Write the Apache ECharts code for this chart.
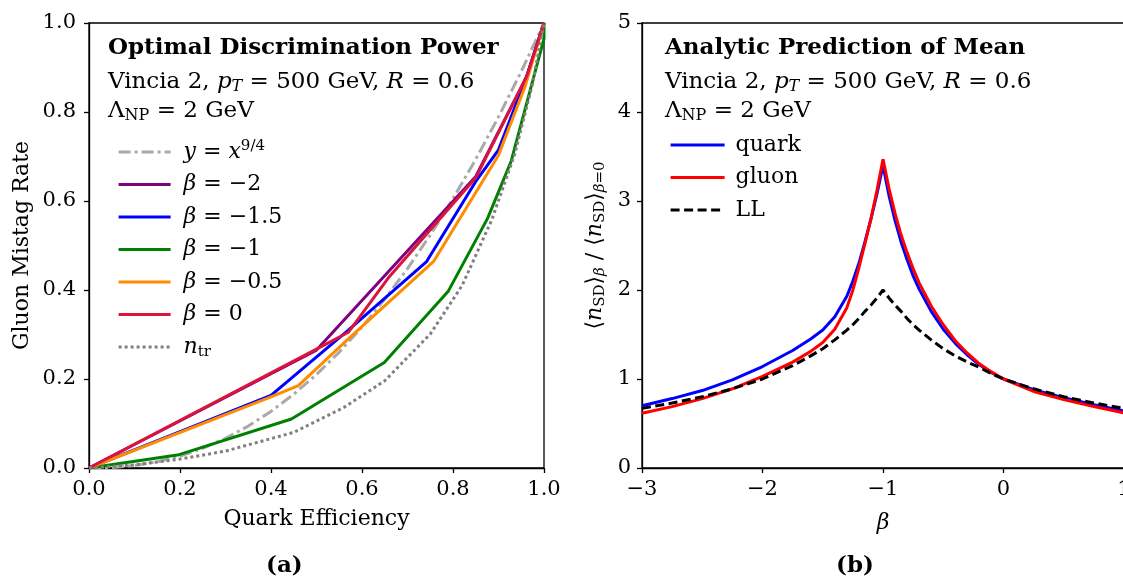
<!DOCTYPE html>
<html><head><meta charset="utf-8">
<script src="https://cdn.jsdelivr.net/npm/echarts@6/dist/echarts.min.js"></script>
<style>html,body{margin:0;padding:0;background:#fff}#c{width:1123px;height:578px}</style>
</head><body><div id="c"></div>
<script>
// ---------- Panel (a) data: [quark efficiency, gluon mistag rate] ----------
const powerLaw = [[0,0],[0.05,0.0012],[0.1,0.0056],[0.15,0.014],[0.2,0.0268],[0.25,0.0442],[0.3,0.0666],[0.35,0.0942],[0.4,0.1272],[0.45,0.1658],[0.5,0.2102],[0.55,0.2605],[0.6,0.3169],[0.65,0.3794],[0.7,0.4482],[0.75,0.5235],[0.8,0.6053],[0.85,0.6937],[0.9,0.7889],[0.95,0.891],[1,1]];
const betaM2  = [[0,0],[0.5,0.265],[0.85,0.655],[0.962,0.88],[1,1]];
const betaM15 = [[0,0],[0.4,0.163],[0.57,0.31],[0.742,0.464],[0.852,0.647],[0.9,0.715],[0.962,0.88],[1,1]];
const betaM1  = [[0,0],[0.198,0.03],[0.445,0.11],[0.649,0.237],[0.79,0.398],[0.876,0.561],[0.928,0.69],[1,0.965],[1,1]];
const betaM05 = [[0,0],[0.4,0.16],[0.46,0.185],[0.57,0.29],[0.758,0.465],[0.9,0.703],[0.958,0.856],[1,1]];
const beta0   = [[0,0],[0.5,0.267],[0.57,0.305],[0.66,0.43],[0.85,0.652],[0.962,0.88],[1,1]];
const nTrack  = [[0,0],[0.1,0.007],[0.2,0.02],[0.3,0.038],[0.45,0.08],[0.56,0.136],[0.65,0.196],[0.75,0.301],[0.82,0.41],[0.885,0.557],[0.936,0.706],[0.975,0.864],[1,1]];

// ---------- Panel (b) data ----------
const betaGrid  = [-3,-2.75,-2.5,-2.25,-2,-1.75,-1.6,-1.5,-1.4,-1.3,-1.25,-1.2,-1.15,-1.1,-1.05,-1,-0.95,-0.9,-0.85,-0.8,-0.75,-0.7,-0.6,-0.5,-0.4,-0.3,-0.2,-0.1,0,0.25,0.5,0.75,1];
const quarkMean = [0.70,0.78,0.87,0.99,1.14,1.32,1.45,1.55,1.70,1.93,2.10,2.30,2.54,2.80,3.08,3.40,3.06,2.78,2.54,2.34,2.16,2.01,1.76,1.56,1.40,1.27,1.16,1.07,1.0,0.88,0.79,0.71,0.64];
const gluonMean = [0.615,0.69,0.78,0.89,1.03,1.19,1.31,1.41,1.56,1.80,2.00,2.25,2.52,2.80,3.12,3.47,3.14,2.86,2.62,2.42,2.24,2.08,1.82,1.61,1.43,1.29,1.17,1.08,1.0,0.86,0.77,0.69,0.62];
const llMean    = [0.67,0.73,0.80,0.89,1.0,1.15,1.26,1.34,1.44,1.55,1.61,1.68,1.76,1.83,1.91,2.0,1.91,1.83,1.76,1.68,1.61,1.55,1.44,1.34,1.26,1.19,1.13,1.06,1.0,0.89,0.80,0.73,0.67];

const FONT = 'DejaVu Serif';
const FS = 22;
function makeRich(fs, sfs){
  return {
    i:   {fontFamily: FONT, fontStyle: 'italic', fontSize: fs, lineHeight: 26, color:'#000'},
    b:   {fontFamily: FONT, fontWeight: 'bold', fontSize: fs, lineHeight: 26, color:'#000'},
    n:   {fontFamily: FONT, fontSize: fs, lineHeight: 26, color:'#000'},
    sub: {fontFamily: FONT, fontSize: sfs, lineHeight: sfs, verticalAlign: 'bottom', color:'#000'},
    subi:{fontFamily: FONT, fontSize: sfs, fontStyle: 'italic', lineHeight: sfs, verticalAlign: 'bottom', color:'#000'},
    sup: {fontFamily: FONT, fontSize: sfs, lineHeight: sfs, verticalAlign: 'top', color:'#000'}
  };
}
const rich = makeRich(FS, 15);
const richBig = makeRich(23, 16);
function pairBeta(vals){ return betaGrid.map((b,i)=>[b, vals[i]]); }
const minus = v => (v < 0 ? '\u2212' + Math.abs(v) : String(v));

const leftSeries = [
  {name:'powerlaw', data: powerLaw, color:'#a9a9a9', type:[12,4,3,4]},
  {name:'bm2', data: betaM2, color:'#800080', type:'solid'},
  {name:'bm15', data: betaM15, color:'#0000ff', type:'solid'},
  {name:'bm1', data: betaM1, color:'#008000', type:'solid'},
  {name:'bm05', data: betaM05, color:'#ff8c00', type:'solid'},
  {name:'b0', data: beta0, color:'#dc143c', type:'solid'},
  {name:'ntr', data: nTrack, color:'#808080', type:[3,3]}
];
const leftLabels = {
  powerlaw: '{i|y} = {i|x}{sup|9/4}',
  bm2: '{i|β} = \u22122',
  bm15: '{i|β} = \u22121.5',
  bm1: '{i|β} = \u22121',
  bm05: '{i|β} = \u22120.5',
  b0: '{i|β} = 0',
  ntr: '{i|n}{sub|tr}'
};
const rightSeries = [
  {name:'quark', data: pairBeta(quarkMean), color:'#0000ff', type:'solid'},
  {name:'gluon', data: pairBeta(gluonMean), color:'#ff0000', type:'solid'},
  {name:'LL', data: pairBeta(llMean), color:'#000000', type:[9,4.5]}
];

function axisCommon(margin){
  return {
    axisLine: {show: true, onZero: false, lineStyle: {color:'#000', width: 1.3}},
    axisTick: {show: true, inside: false, length: 5, lineStyle: {color:'#000', width: 1.3}},
    splitLine: {show: false},
    axisLabel: {fontFamily: FONT, fontSize: 21, color: '#000', margin: margin}
  };
}

const series = [];
leftSeries.forEach(s => series.push({
  name: s.name, type: 'line', xAxisIndex: 0, yAxisIndex: 0, data: s.data,
  symbol: 'none', showSymbol: false, animation: false, color: s.color,
  lineStyle: {color: s.color, width: 3, type: s.type, cap: 'butt'}
}));
rightSeries.forEach(s => series.push({
  name: s.name, type: 'line', xAxisIndex: 1, yAxisIndex: 1, data: s.data,
  symbol: 'none', showSymbol: false, animation: false, color: s.color,
  lineStyle: {color: s.color, width: 3, type: s.type, cap: 'butt'}
}));

function txt(x, y, text){
  return {type:'text', left: x, top: y, silent: true,
    style: {text: text, rich: richBig, fontFamily: FONT, fontSize: 23, fill: '#000', lineHeight: 26}};
}

const option = {
  animation: false,
  backgroundColor: '#fff',
  grid: [
    {left: 89, right: 579, top: 23, bottom: 110, show: true, borderColor: '#000', borderWidth: 1.3, backgroundColor: 'transparent', outerBoundsMode: 'none', containLabel: false},
    {left: 642, right: -1, top: 23, bottom: 110, show: true, borderColor: '#000', borderWidth: 1.3, backgroundColor: 'transparent', outerBoundsMode: 'none', containLabel: false}
  ],
  xAxis: [
    Object.assign(axisCommon(11), {gridIndex: 0, type:'value', min: 0, max: 1, interval: 0.2,
      axisLabel: Object.assign(axisCommon(11).axisLabel, {formatter: v => v.toFixed(1)}),
      name: 'Quark Efficiency', nameLocation: 'middle', nameGap: 40,
      nameTextStyle: {fontFamily: FONT, fontSize: FS, color: '#000'}}),
    Object.assign(axisCommon(11), {gridIndex: 1, type:'value', min: -3, max: 1, interval: 1,
      axisLabel: Object.assign(axisCommon(11).axisLabel, {formatter: minus}),
      name: '{i|β}', nameLocation: 'middle', nameGap: 42,
      nameTextStyle: {fontFamily: FONT, fontSize: FS, color: '#000', rich: rich}})
  ],
  yAxis: [
    Object.assign(axisCommon(13), {gridIndex: 0, type:'value', min: 0, max: 1, interval: 0.2,
      axisLabel: Object.assign(axisCommon(13).axisLabel, {formatter: v => v.toFixed(1)}),
      name: 'Gluon Mistag Rate', nameLocation: 'middle', nameGap: 56,
      nameTextStyle: {fontFamily: FONT, fontSize: FS, color: '#000'}}),
    Object.assign(axisCommon(11), {gridIndex: 1, type:'value', min: 0, max: 5, interval: 1,
      name: '\u27e8{i|n}{sub|SD}\u27e9{subi|β} / \u27e8{i|n}{sub|SD}\u27e9{subi|β}{sub|=0}', nameLocation: 'middle', nameGap: 34,
      nameTextStyle: {fontFamily: FONT, fontSize: FS, color: '#000', rich: rich, lineHeight: 26}})
  ],
  legend: [
    {show: true, orient: 'vertical', left: 117, top: 139, padding: 0, itemWidth: 52, itemHeight: 14, itemGap: 6.5,
      data: leftSeries.map(s => s.name), selectedMode: false,
      itemStyle: {opacity: 0}, lineStyle: {width: 3.2},
      formatter: n => leftLabels[n],
      textStyle: {fontFamily: FONT, fontSize: FS, color: '#000', rich: rich, lineHeight: 26, padding: [0,0,0,8]}},
    {show: true, orient: 'vertical', left: 669, top: 132, padding: 0, itemWidth: 54, itemHeight: 14, itemGap: 6.5,
      data: rightSeries.map(s => s.name), selectedMode: false,
      itemStyle: {opacity: 0}, lineStyle: {width: 3.2},
      textStyle: {fontFamily: FONT, fontSize: FS, color: '#000', rich: rich, lineHeight: 26, padding: [0,0,0,6]}}
  ],
  graphic: [
    txt(108, 35, '{b|Optimal Discrimination Power}'),
    txt(108, 69, 'Vincia 2, {i|p}{subi|T} = 500 GeV, {i|R} = 0.6'),
    txt(108, 98, 'Λ{sub|NP} = 2 GeV'),
    txt(665, 35, '{b|Analytic Prediction of Mean}'),
    txt(665, 69, 'Vincia 2, {i|p}{subi|T} = 500 GeV, {i|R} = 0.6'),
    txt(665, 98, 'Λ{sub|NP} = 2 GeV'),
    txt(266, 553, '{b|(a)}'),
    txt(836, 553, '{b|(b)}')
  ],
  series: series
};
const chart = echarts.init(document.getElementById('c'), null, {renderer: 'canvas'});
chart.setOption(option);
</script></body></html>
